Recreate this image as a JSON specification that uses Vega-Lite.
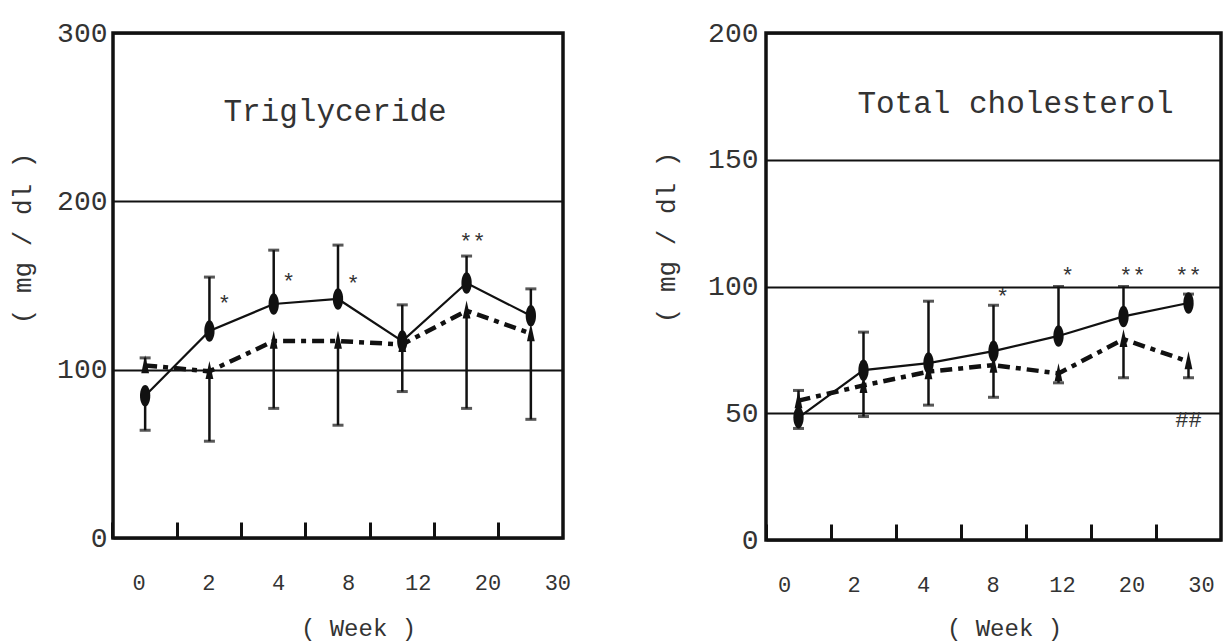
{
  "$schema": "https://vega.github.io/schema/vega-lite/v6.json",
  "background": "white",
  "padding": {"left": 7, "top": 17, "right": 0, "bottom": 0},
  "config": {
    "font": "Liberation Mono",
    "view": {"stroke": "#111", "strokeWidth": 3.5},
    "concat": {"spacing": 78},
    "axis": {"labelFont": "Liberation Mono", "titleFont": "Liberation Mono", "labelColor": "#333", "titleColor": "#333", "titleFontWeight": "normal", "domain": false}
  },
  "datasets": {
    "tg": [
      {"series": "A", "week": 0, "mean": 84.5, "bar": 64},
      {"series": "A", "week": 2, "mean": 123, "bar": 155},
      {"series": "A", "week": 4, "mean": 139, "bar": 171},
      {"series": "A", "week": 8, "mean": 142, "bar": 174},
      {"series": "A", "week": 12, "mean": 117, "bar": 138.5},
      {"series": "A", "week": 20, "mean": 151.5, "bar": 167.5},
      {"series": "A", "week": 30, "mean": 132, "bar": 148},
      {"series": "B", "week": 0, "mean": 102.5, "bar": 107},
      {"series": "B", "week": 2, "mean": 99, "bar": 57.5},
      {"series": "B", "week": 4, "mean": 117, "bar": 77},
      {"series": "B", "week": 8, "mean": 117, "bar": 67},
      {"series": "B", "week": 12, "mean": 115, "bar": 87},
      {"series": "B", "week": 20, "mean": 135, "bar": 77},
      {"series": "B", "week": 30, "mean": 121.5, "bar": 70.5}
    ],
    "tgAnn": [
      {"week": 2, "v": 139, "label": "*"},
      {"week": 4, "v": 152, "label": "*"},
      {"week": 8, "v": 151, "label": "*"},
      {"week": 20, "v": 176, "label": "**"}
    ],
    "tc": [
      {"series": "A", "week": 0, "mean": 48.3, "bar": 44},
      {"series": "A", "week": 2, "mean": 67, "bar": 82},
      {"series": "A", "week": 4, "mean": 69.8, "bar": 94.2},
      {"series": "A", "week": 8, "mean": 74.5, "bar": 92.6},
      {"series": "A", "week": 12, "mean": 80.5, "bar": 100},
      {"series": "A", "week": 20, "mean": 88.2, "bar": 100},
      {"series": "A", "week": 30, "mean": 93.5, "bar": 97},
      {"series": "B", "week": 0, "mean": 55, "bar": 59},
      {"series": "B", "week": 2, "mean": 61, "bar": 48.7},
      {"series": "B", "week": 4, "mean": 66.4, "bar": 53.2},
      {"series": "B", "week": 8, "mean": 69, "bar": 56.3},
      {"series": "B", "week": 12, "mean": 65.7, "bar": 62},
      {"series": "B", "week": 20, "mean": 79.2, "bar": 64},
      {"series": "B", "week": 30, "mean": 70.4, "bar": 64}
    ],
    "tcAnn": [
      {"week": 8, "v": 96, "label": "*"},
      {"week": 12, "v": 104, "label": "*"},
      {"week": 20, "v": 104, "label": "**"},
      {"week": 30, "v": 104, "label": "**"},
      {"week": 30, "v": 47.5, "label": "##"}
    ]
  },
  "hconcat": [
    {
      "width": 450,
      "height": 505,
      "data": {"name": "tg"},
      "encoding": {
        "x": {
          "field": "week", "type": "ordinal",
          "scale": {"type": "band", "domain": [0, 2, 4, 8, 12, 20, 30], "paddingInner": 0, "paddingOuter": 0},
          "axis": {
            "bandPosition": 0, "labelAngle": 0, "tickSize": -16, "tickWidth": 3, "tickColor": "#111",
            "labelFontSize": 22, "labelPadding": 50, "labelOffset": {"expr": "-6 + 33 * datum.index"},
            "title": "( Week )", "titleFontSize": 24, "titleX": 245, "titleY": 90, "titleBaseline": "middle", "titleAlign": "center"
          }
        },
        "y": {
          "field": "mean", "type": "quantitative", "title": "( mg / dl )",
          "scale": {"domain": [0, 300], "nice": false, "zero": true},
          "axis": {
            "values": [0, 100, 200, 300], "grid": true, "gridColor": "#111", "gridWidth": 2, "ticks": false,
            "labelFontSize": 28, "labelPadding": 6,
            "titleFontSize": 26, "titleX": -91, "titleY": 205, "titleBaseline": "middle", "titleAlign": "center", "titleAngle": -90
          }
        }
      },
      "layer": [
        {"transform": [{"filter": "datum.series == 'A'"}], "mark": {"type": "line", "color": "#111", "strokeWidth": 2.2}},
        {"transform": [{"filter": "datum.series == 'B'"}], "mark": {"type": "line", "color": "#111", "strokeWidth": 4.5, "strokeDash": [12, 6, 5, 6]}},
        {"mark": {"type": "rule", "color": "#111", "strokeWidth": 2.5}, "encoding": {"y2": {"field": "bar"}}},
        {"mark": {"type": "tick", "color": "#111", "thickness": 3, "size": 11}, "encoding": {"y": {"field": "bar", "type": "quantitative", "title": "( mg / dl )"}}},
        {"transform": [{"filter": "datum.series == 'A'"}], "mark": {"type": "point", "shape": "M0,-1A0.48,1 0 1,1 0,1A0.48,1 0 1,1 0,-1Z", "filled": true, "opacity": 1, "color": "#111", "size": 460}},
        {"transform": [{"filter": "datum.series == 'B'"}], "mark": {"type": "point", "shape": "M0,-1L0.38,0.75L-0.38,0.75Z", "filled": true, "opacity": 1, "color": "#111", "size": 420}},
        {"data": {"name": "tgAnn"}, "transform": [{"filter": "datum.week < 20"}], "mark": {"type": "text", "font": "Liberation Mono", "fontSize": 22, "color": "#333", "dx": 15}, "encoding": {"y": {"field": "v", "type": "quantitative", "title": "( mg / dl )"}, "text": {"field": "label"}}},
        {"data": {"name": "tgAnn"}, "transform": [{"filter": "datum.week >= 20"}], "mark": {"type": "text", "font": "Liberation Mono", "fontSize": 22, "color": "#333", "dx": 6}, "encoding": {"y": {"field": "v", "type": "quantitative", "title": "( mg / dl )"}, "text": {"field": "label"}}},
        {"data": {"values": [{"t": "Triglyceride", "v": 253, "week": 8}]}, "mark": {"type": "text", "font": "Liberation Mono", "fontSize": 31, "color": "#333", "dx": -3}, "encoding": {"y": {"field": "v", "type": "quantitative", "title": "( mg / dl )"}, "text": {"field": "t"}}}
      ]
    },
    {
      "width": 455,
      "height": 507,
      "data": {"name": "tc"},
      "encoding": {
        "x": {
          "field": "week", "type": "ordinal",
          "scale": {"type": "band", "domain": [0, 2, 4, 8, 12, 20, 30], "paddingInner": 0, "paddingOuter": 0},
          "axis": {
            "bandPosition": 0, "labelAngle": 0, "tickSize": -16, "tickWidth": 3, "tickColor": "#111",
            "labelFontSize": 22, "labelPadding": 50, "labelOffset": {"expr": "-14 + 27 * datum.index"},
            "title": "( Week )", "titleFontSize": 24, "titleX": 238, "titleY": 88, "titleBaseline": "middle", "titleAlign": "center"
          }
        },
        "y": {
          "field": "mean", "type": "quantitative", "title": "( mg / dl )",
          "scale": {"domain": [0, 200], "nice": false, "zero": true},
          "axis": {
            "values": [0, 50, 100, 150, 200], "grid": true, "gridColor": "#111", "gridWidth": 2, "ticks": false,
            "labelFontSize": 28, "labelPadding": 8,
            "titleFontSize": 26, "titleX": -100, "titleY": 204, "titleBaseline": "middle", "titleAlign": "center", "titleAngle": -90
          }
        }
      },
      "layer": [
        {"transform": [{"filter": "datum.series == 'A'"}], "mark": {"type": "line", "color": "#111", "strokeWidth": 2.2}},
        {"transform": [{"filter": "datum.series == 'B'"}], "mark": {"type": "line", "color": "#111", "strokeWidth": 4.5, "strokeDash": [12, 6, 5, 6]}},
        {"mark": {"type": "rule", "color": "#111", "strokeWidth": 2.5}, "encoding": {"y2": {"field": "bar"}}},
        {"mark": {"type": "tick", "color": "#111", "thickness": 3, "size": 11}, "encoding": {"y": {"field": "bar", "type": "quantitative", "title": "( mg / dl )"}}},
        {"transform": [{"filter": "datum.series == 'A'"}], "mark": {"type": "point", "shape": "M0,-1A0.48,1 0 1,1 0,1A0.48,1 0 1,1 0,-1Z", "filled": true, "opacity": 1, "color": "#111", "size": 460}},
        {"transform": [{"filter": "datum.series == 'B'"}], "mark": {"type": "point", "shape": "M0,-1L0.38,0.75L-0.38,0.75Z", "filled": true, "opacity": 1, "color": "#111", "size": 420}},
        {"data": {"name": "tcAnn"}, "transform": [{"filter": "datum.week < 30"}], "mark": {"type": "text", "font": "Liberation Mono", "fontSize": 22, "color": "#333", "dx": 9}, "encoding": {"y": {"field": "v", "type": "quantitative", "title": "( mg / dl )"}, "text": {"field": "label"}}},
        {"data": {"name": "tcAnn"}, "transform": [{"filter": "datum.week >= 30"}], "mark": {"type": "text", "font": "Liberation Mono", "fontSize": 22, "color": "#333", "dx": 0}, "encoding": {"y": {"field": "v", "type": "quantitative", "title": "( mg / dl )"}, "text": {"field": "label"}}},
        {"data": {"values": [{"t": "Total cholesterol", "v": 172, "week": 8}]}, "mark": {"type": "text", "font": "Liberation Mono", "fontSize": 31, "color": "#333", "dx": 22}, "encoding": {"y": {"field": "v", "type": "quantitative", "title": "( mg / dl )"}, "text": {"field": "t"}}}
      ]
    }
  ]
}
